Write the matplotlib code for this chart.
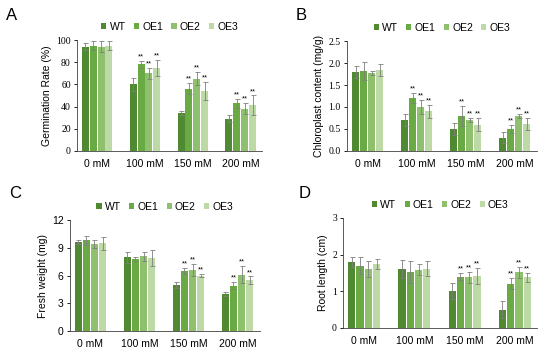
import matplotlib.pyplot as plt
import numpy as np

plt.rcParams['font.family'] = ['Liberation Sans', 'DejaVu Sans']

groups = ["0 mM", "100 mM", "150 mM", "200 mM"]
lines = ["WT", "OE1", "OE2", "OE3"]
colors = ["#4f8a32", "#6aaa45", "#8ec06e", "#bddaa6"]

# A - germination rate
germ = [[94, 60, 34, 29], [95, 78, 56, 43], [94, 70, 65, 38], [95, 75, 54, 41]]
germ_err = [[3, 6, 2, 3], [4, 3, 5, 4], [5, 5, 6, 5], [4, 7, 8, 9]]
# B - chloroplast content
chl = [[1.80, 0.70, 0.50, 0.30], [1.82, 1.20, 0.80, 0.50],
       [1.78, 1.00, 0.70, 0.80], [1.84, 0.90, 0.60, 0.62]]
chl_err = [[0.14, 0.13, 0.13, 0.13], [0.20, 0.12, 0.23, 0.10],
           [0.05, 0.15, 0.05, 0.05], [0.14, 0.14, 0.14, 0.14]]
# C - fresh weight
fw = [[9.6, 8.0, 5.0, 4.0], [9.8, 7.8, 6.5, 4.9], [9.4, 8.1, 6.6, 6.1], [9.5, 7.9, 6.0, 5.5]]
fw_err = [[0.2, 0.6, 0.3, 0.2], [0.5, 0.2, 0.3, 0.4], [0.4, 0.5, 0.7, 0.9], [0.7, 0.9, 0.2, 0.4]]
# D - root length
rl = [[1.80, 1.60, 1.00, 0.50], [1.70, 1.52, 1.40, 1.20],
      [1.60, 1.58, 1.38, 1.52], [1.75, 1.62, 1.42, 1.38]]
rl_err = [[0.13, 0.25, 0.22, 0.22], [0.24, 0.30, 0.10, 0.15],
          [0.22, 0.15, 0.15, 0.15], [0.13, 0.20, 0.22, 0.12]]

panels = [
    ("A", germ, germ_err, "Germination Rate (%)", [0, 20, 40, 60, 80, 100], ["0", "20", "40", "60", "80", "100"], 1, True,
     [0.140, 0.570, 0.337, 0.316], (0.010, 0.935)),
    ("B", chl, chl_err, "Chloroplast content (mg/g)", [0, 0.5, 1.0, 1.5, 2.0, 2.5],
     ["0.0", "0.5", "1.0", "1.5", "2.0", "2.5"], 1, True, [0.631, 0.570, 0.345, 0.313], (0.538, 0.935)),
    ("C", fw, fw_err, "Fresh weight (mg)", [0, 3, 6, 9, 12], ["0", "3", "6", "9", "12"], 2, False,
     [0.127, 0.057, 0.345, 0.316], (0.016, 0.428)),
    ("D", rl, rl_err, "Root length (cm)", [0, 1, 2, 3], ["0", "1", "2", "3"], 2, True,
     [0.624, 0.066, 0.353, 0.313], (0.543, 0.428)),
]

fig = plt.figure(figsize=(5.5, 3.51), dpi=100)
x = np.arange(len(groups))
step = 0.165
width = 0.145

for label, vals, errs, ylabel, yticks, yticklabels, star_from, serif, pos, lpos in panels:
    ax = fig.add_axes(pos)
    top = yticks[-1]
    for i, name in enumerate(lines):
        xs = x + (i - 1.5) * step
        ax.bar(xs, vals[i], width, color=colors[i], label=name, zorder=2)
        ax.errorbar(xs, vals[i], yerr=errs[i], fmt="none", ecolor="#7f7f7f",
                    elinewidth=0.6, capsize=1.8, capthick=0.6, zorder=3)
        if i > 0:
            for g in range(star_from, len(groups)):
                ax.text(xs[g], vals[i][g] + errs[i][g] + top * 0.005, "**",
                        ha="center", va="bottom", fontsize=5.5)
    ax.set_xlim(-0.42, 3.45)
    ax.set_ylim(0, top)
    ax.set_xticks(x)
    ax.set_xticklabels(groups, fontsize=7.5)
    ax.tick_params(axis="x", length=0, pad=6)
    ax.set_yticks(yticks)
    if serif:
        ax.set_yticklabels(yticklabels, fontsize=7, family="Liberation Serif")
    else:
        ax.set_yticklabels(yticklabels, fontsize=7.5)
    ax.tick_params(axis="y", length=2.5, width=0.6, pad=2)
    ax.set_ylabel(ylabel, fontsize=7.5, labelpad=3)
    for s in ["top", "right"]:
        ax.spines[s].set_visible(False)
    ax.spines["left"].set_color("#404040")
    ax.spines["bottom"].set_color("#404040")
    ax.spines["left"].set_linewidth(0.6)
    ax.spines["bottom"].set_linewidth(0.6)
    ax.legend(loc="lower center", bbox_to_anchor=(0.5, 1.02), ncol=4, frameon=False,
              fontsize=7.5, handlelength=0.5, handleheight=0.6, handletextpad=0.3,
              columnspacing=0.8, borderaxespad=0.2)
    fig.text(lpos[0], lpos[1], label, fontsize=12, va="bottom")

fig.savefig("out.png", dpi=100)
